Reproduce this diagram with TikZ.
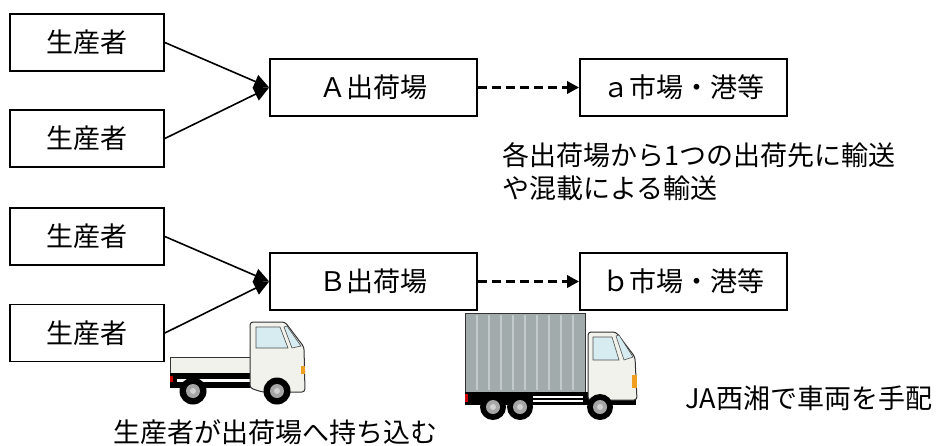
\documentclass[tikz,border=0pt]{standalone}
\usepackage{fontspec}
\setmainfont{Noto Sans CJK JP}
\usetikzlibrary{arrows.meta}

\definecolor{cabwhite}{HTML}{F2F2EC}
\definecolor{glass}{HTML}{D6ECF0}
\definecolor{boxgray}{HTML}{A2ABAC}
\definecolor{ribgray}{HTML}{C3CACA}
\definecolor{lamp}{HTML}{F0A020}

\begin{document}
\begin{tikzpicture}[x=1pt, y=-1pt,
		box/.style={draw, line width=1.7pt, minimum height=57pt, inner sep=0pt, font=\fontsize{27}{31}\selectfont},
		feed/.style={line width=1.6pt, -{Triangle[length=15pt,width=14pt]}},
		haul/.style={line width=3.2pt, dash pattern=on 9pt off 5pt, -{Triangle[length=12pt,width=12pt]}},
		note/.style={anchor=west, inner sep=0pt, font=\fontsize{27}{31}\selectfont},
		outline/.style={draw=black!80, line width=1pt}]
		\useasboundingbox (0,0) rectangle (940,445);

		% producers
		\node [box, minimum width=154pt] (p1) at (87, 42.5) {生産者};
		\node [box, minimum width=154pt] (p2) at (87, 138.5) {生産者};
		\node [box, minimum width=154pt] (p3) at (87, 236.5) {生産者};
		\node [box, minimum width=154pt] (p4) at (87, 333) {生産者};

		% shipping points and destinations
		\node [box, minimum width=207pt] (A) at (373.5, 87.5) {Ａ出荷場};
		\node [box, minimum width=207pt] (a) at (683.5, 87.5) {ａ市場・港等};
		\node [box, minimum width=207pt] (B) at (373.5, 281.5) {Ｂ出荷場};
		\node [box, minimum width=207pt] (b) at (683.5, 281.5) {ｂ市場・港等};

		\draw [feed] (p1.east) -- (A.west);
		\draw [feed] (p2.east) -- (A.west);
		\draw [feed] (p3.east) -- (B.west);
		\draw [feed] (p4.east) -- (B.west);
		\draw [haul] (A.east) -- (a.west);
		\draw [haul] (B.east) -- (b.west);

		% notes
		\node [note] (n1) at (502, 155) {各出荷場から1つの出荷先に輸送};
		\node [note] (n2) at (502, 188) {や混載による輸送};
		\node [note] (n3) at (113, 432) {生産者が出荷場へ持ち込む};
		\node [note] (n4) at (685, 398) {JA西湘で車両を手配};

		% small truck
		\draw [outline, fill=cabwhite] (170,357) rectangle (252,374);
		\fill [black] (170,373) rectangle (304,388);
		\fill [white] (177,379) rectangle (250,382);
		\fill [red!80!black] (170,376) rectangle (173,382);
		\draw [outline, fill=cabwhite, rounded corners=3pt] (250,388) -- (250,322) -- (285,322) -- (304,347) -- (305,392) -- (262,392) -- cycle;
		\draw [black!70, fill=glass, line width=0.6pt] (256,327) -- (280,327) -- (288,348) -- (256,348) -- cycle;
		\draw [black!70, fill=glass, line width=0.6pt] (284,327) -- (287,326) -- (301,346) -- (292,348) -- cycle;
		\fill [lamp] (301,366) rectangle (305,374);
		\foreach \cx in {193, 277} {
			\fill [black] (\cx,391) circle (13.5);
			\fill [gray!70] (\cx,391) circle (7);
			\fill [gray!35] (\cx,391) circle (3);
		}

		% large truck
		\draw [outline, fill=boxgray] (465,313) rectangle (585,392);
		\foreach \rx in {477, 489, ..., 573}
			\draw [ribgray, line width=2pt] (\rx,315) -- (\rx,390);
		\fill [black] (465,392) rectangle (636,405);
		\fill [white] (533,396) rectangle (583,397.5);
		\fill [white] (533,400) rectangle (583,401.5);
		\fill [red!80!black] (465,394) rectangle (468,402);
		\draw [outline, fill=cabwhite, rounded corners=3pt] (588,400) -- (588,332) -- (616,332) -- (635,357) -- (637,400) -- cycle;
		\draw [black!70, fill=glass, line width=0.6pt] (593,337) -- (612,337) -- (619,360) -- (593,360) -- cycle;
		\draw [black!70, fill=glass, line width=0.6pt] (616,336) -- (619,335) -- (633,357) -- (624,360) -- cycle;
		\fill [lamp] (632,375) rectangle (637,388);
		\foreach \cx in {493, 520, 600} {
			\fill [black] (\cx,407) circle (13);
			\fill [gray!70] (\cx,407) circle (7);
			\fill [gray!35] (\cx,407) circle (3);
		}
	\end{tikzpicture}
\end{document}
